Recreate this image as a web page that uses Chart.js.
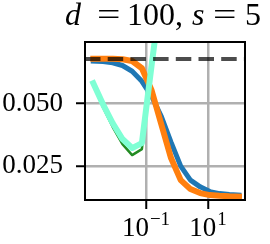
<!DOCTYPE html>
<html>
<head>
<meta charset="utf-8">
<script src="https://cdn.jsdelivr.net/npm/chart.js@4/dist/chart.umd.min.js"></script>
<style>
  html, body { margin: 0; padding: 0; background: #fff; }
  canvas { display: block; }
</style>
</head>
<body>
<canvas id="chart" width="270" height="244"></canvas>
<script>
// values
const xValues = [0.001995, 0.004103, 0.008453, 0.01738, 0.03573, 0.07362, 0.1514, 0.3112,
                 0.6412, 1.318, 2.710, 5.585, 11.48, 23.61, 48.64, 100];
const blueValues = [0.0670, 0.0668, 0.0663, 0.0652, 0.0629, 0.0589, 0.0529, 0.0449,
                    0.0346, 0.0250, 0.0194, 0.0167, 0.0148, 0.0140, 0.0136, 0.0134];
const orangeValues = [0.0679, 0.0679, 0.0679, 0.0677, 0.0670, 0.0641, 0.0553, 0.0417,
                      0.0282, 0.0194, 0.0158, 0.0142, 0.0134, 0.0131, 0.0129, 0.0128];
const greenValues = [0.0577, 0.0485, 0.0406, 0.0338, 0.0294, 0.0318, 0.0657, 0.0999];
const aquaValues = [0.0581, 0.0497, 0.0421, 0.0358, 0.0322, 0.0342, 0.0653, 0.0952];
const baselineValue = 0.0678;

const xRange = [0.001076, 156.3];
const yRange = [0.01144, 0.0746];
const xTickValues = [0.1, 10];
const xTickLabels = [['10', '\u22121'], ['10', '1']];
const yTickValues = [0.025, 0.05];
const yTickLabels = ['0.025', '0.050'];

// title pieces: text, italic, left offset from the middle of the axes
const titlePieces = [['d', true, -100], ['=', false, -68], ['100,', false, -38],
                     ['s', true, 27], ['=', false, 48], ['5', false, 80]];

const serif = '"Liberation Serif", "DejaVu Serif", serif';

function toPoints(values) {
  return values.map((v, i) => ({ x: xValues[i], y: v }));
}

// frame, x tick labels with superscripts and the math-style title
const decorPlugin = {
  id: 'decor',
  afterDraw(chart) {
    const { ctx, chartArea: a, scales } = chart;
    ctx.save();
    ctx.strokeStyle = '#000';
    ctx.lineWidth = 2;
    ctx.strokeRect(a.left, a.top, a.right - a.left, a.bottom - a.top);

    ctx.fillStyle = '#000';
    ctx.textBaseline = 'alphabetic';
    ctx.textAlign = 'left';
    xTickValues.forEach((v, i) => {
      const px = scales.x.getPixelForValue(v);
      const [base, exp] = xTickLabels[i];
      ctx.font = '27px ' + serif;
      const wb = ctx.measureText(base).width;
      ctx.font = '19px ' + serif;
      const we = ctx.measureText(exp).width;
      const left = px - (wb + we + 1) / 2;
      ctx.font = '27px ' + serif;
      ctx.fillText(base, left, a.bottom + 36);
      ctx.font = '19px ' + serif;
      ctx.fillText(exp, left + wb + 1, a.bottom + 25);
    });

    const mid = (a.left + a.right) / 2;
    titlePieces.forEach(([t, it, off]) => {
      ctx.font = (it ? 'italic ' : '') + '32px ' + serif;
      if (t === '=') {
        // stretch the equals sign to the wider math glyph
        ctx.save();
        ctx.translate(mid + off, 25);
        ctx.scale(1.3, 1);
        ctx.fillText(t, 0, 0);
        ctx.restore();
      } else {
        ctx.fillText(t, mid + off, 25);
      }
    });
    ctx.restore();
  }
};

const lineStyle = { pointRadius: 0, tension: 0, fill: false, clip: 0,
                    borderCapStyle: 'square', borderJoinStyle: 'round' };

new Chart(document.getElementById('chart'), {
  type: 'line',
  data: {
    datasets: [
      { ...lineStyle, data: toPoints(blueValues), borderColor: '#1f77b4', borderWidth: 5, order: 5 },
      { ...lineStyle, data: toPoints(orangeValues), borderColor: '#ff7f0e', borderWidth: 6, order: 4 },
      { ...lineStyle, data: toPoints(greenValues), borderColor: '#228b22', borderWidth: 2.5, order: 3 },
      { ...lineStyle, data: toPoints(aquaValues), borderColor: '#7fffd4', borderWidth: 6, order: 2 },
      { ...lineStyle, data: xRange.map(x => ({ x: x, y: baselineValue })),
        borderColor: 'rgba(0,0,0,0.7)', borderWidth: 4, borderDash: [15.5, 7.2],
        borderCapStyle: 'butt', order: 1 }
    ]
  },
  options: {
    responsive: false,
    animation: false,
    devicePixelRatio: 1,
    layout: { padding: { left: 0, top: 42, right: 25, bottom: 0 } },
    plugins: { legend: { display: false }, tooltip: { enabled: false }, title: { display: false } },
    scales: {
      x: {
        type: 'logarithmic',
        min: xRange[0],
        max: xRange[1],
        afterBuildTicks: scale => { scale.ticks = xTickValues.map(v => ({ value: v })); },
        afterFit: scale => { scale.height = 44; },
        ticks: { display: false },
        border: { display: false },
        grid: { color: '#b0b0b0', lineWidth: 2.5, tickColor: '#000', tickWidth: 2, tickLength: 9 }
      },
      y: {
        type: 'linear',
        min: yRange[0],
        max: yRange[1],
        afterBuildTicks: scale => { scale.ticks = yTickValues.map(v => ({ value: v })); },
        afterFit: scale => { scale.width = 85; },
        ticks: {
          padding: 13,
          color: '#000',
          font: { family: serif, size: 27 },
          callback: v => yTickLabels[yTickValues.indexOf(v)]
        },
        border: { display: false },
        grid: { color: '#b0b0b0', lineWidth: 2.5, tickColor: '#000', tickWidth: 2, tickLength: 9 }
      }
    }
  },
  plugins: [decorPlugin]
});
</script>
</body>
</html>
